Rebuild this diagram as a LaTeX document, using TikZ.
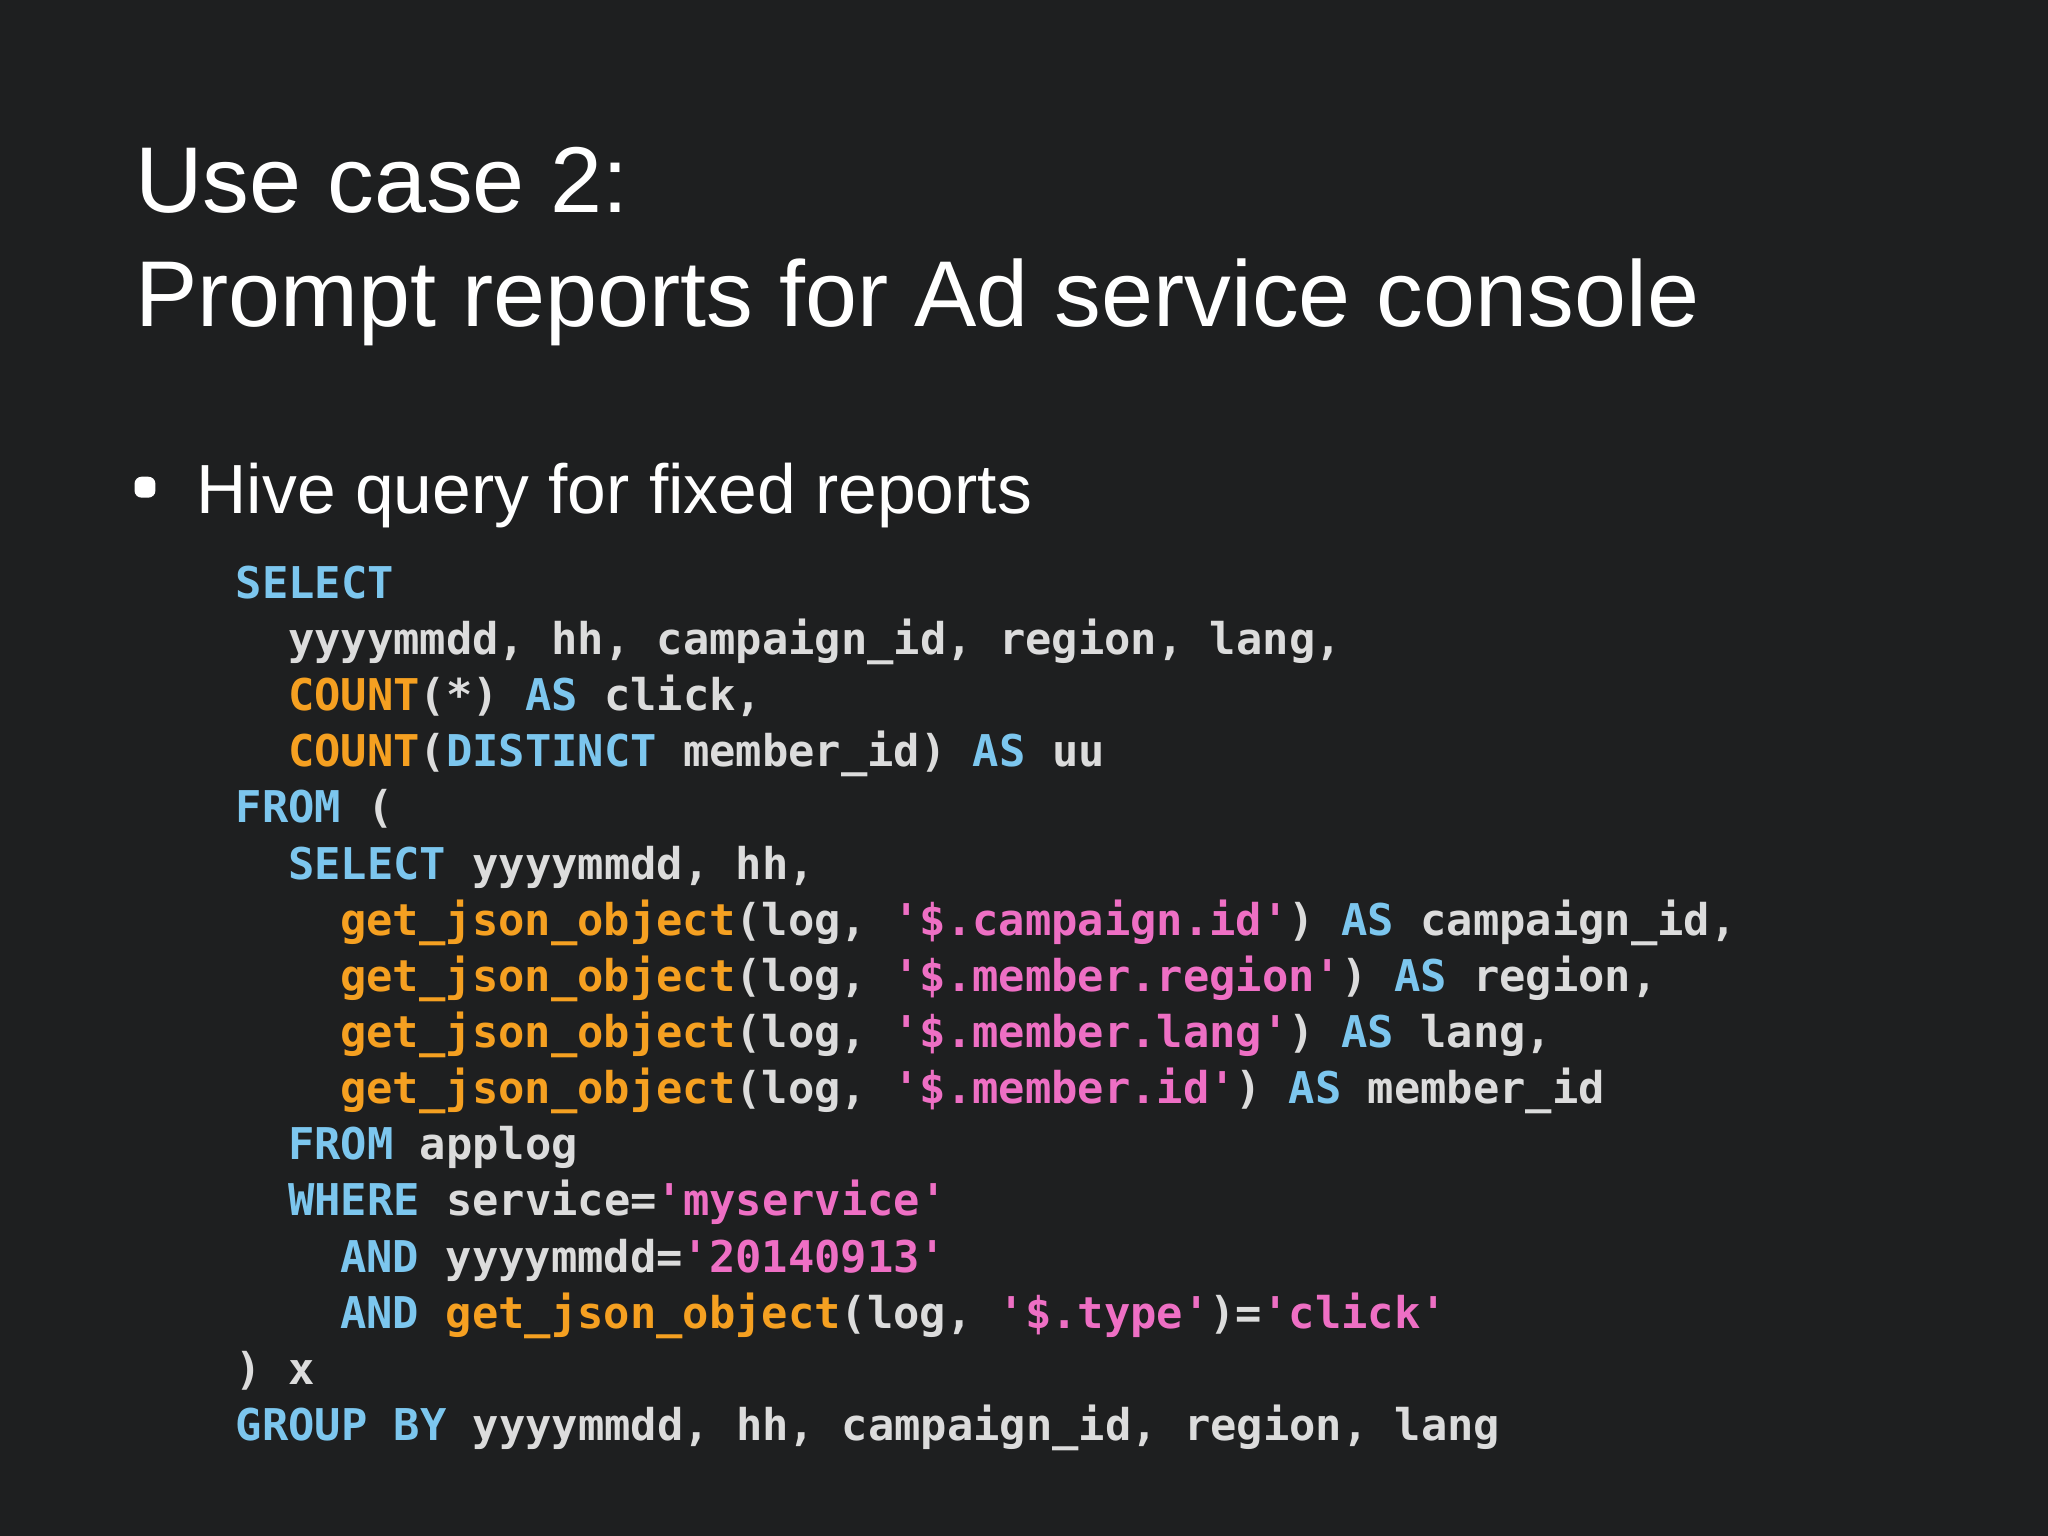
\documentclass[tikz,border=0pt]{standalone}
\usepackage{fontspec}
\setmainfont{Liberation Sans}
\setmonofont{DejaVu Sans Mono}
\definecolor{bgc}{HTML}{1E1F20}
\definecolor{kw}{HTML}{7CC6EE}
\definecolor{fn}{HTML}{F5A021}
\definecolor{st}{HTML}{EE6FC4}
\definecolor{pl}{HTML}{DCDCDC}
\newcommand{\K}[1]{\textcolor{kw}{#1}}
\newcommand{\F}[1]{\textcolor{fn}{#1}}
\newcommand{\Sg}[1]{\textcolor{st}{#1}}
\tikzset{code/.style={anchor=base west,inner sep=0,text=pl,font=\ttfamily\bfseries\fontsize{12.45}{14}\selectfont},
title/.style={anchor=base west,inner sep=0,text=white,font=\fontsize{26.6}{32}\selectfont}}
\begin{document}
\begin{tikzpicture}[x=0.013061cm,y=-0.013061cm]
\fill[bgc] (0,0) rectangle (1568,1176);
\node[title] (t1) at (103,163) {Use case 2:};
\node[title] (t2) at (103,250) {Prompt reports for Ad service console};
\fill[white,rounded corners=2pt] (103,365) rectangle (119,381);
\node[title,font=\fontsize{19.8}{24}\selectfont] (h) at (150,393) {Hive query for fixed reports};
\node[code] (l1) at (180,458) {\K{SELECT}};
\node[code] (l2) at (220,501) {yyyymmdd, hh, campaign\_id, region, lang,};
\node[code] (l3) at (220,544) {\F{COUNT}(*) \K{AS} click,};
\node[code] (l4) at (220,587) {\F{COUNT}(\K{DISTINCT} member\_id) \K{AS} uu};
\node[code] (l5) at (180,630) {\K{FROM} (};
\node[code] (l6) at (220,673) {\K{SELECT} yyyymmdd, hh,};
\node[code] (l7) at (260,716) {\F{get\_json\_object}(log, \Sg{'\$.campaign.id'}) \K{AS} campaign\_id,};
\node[code] (l8) at (260,759) {\F{get\_json\_object}(log, \Sg{'\$.member.region'}) \K{AS} region,};
\node[code] (l9) at (260,802) {\F{get\_json\_object}(log, \Sg{'\$.member.lang'}) \K{AS} lang,};
\node[code] (l10) at (260,845) {\F{get\_json\_object}(log, \Sg{'\$.member.id'}) \K{AS} member\_id};
\node[code] (l11) at (220,888) {\K{FROM} applog};
\node[code] (l12) at (220,931) {\K{WHERE} service=\Sg{'myservice'}};
\node[code] (l13) at (260,974) {\K{AND} yyyymmdd=\Sg{'20140913'}};
\node[code] (l14) at (260,1017) {\K{AND} \F{get\_json\_object}(log, \Sg{'\$.type'})=\Sg{'click'}};
\node[code] (l15) at (180,1060) {) x};
\node[code] (l16) at (180,1103) {\K{GROUP BY} yyyymmdd, hh, campaign\_id, region, lang};
\end{tikzpicture}
\end{document}
